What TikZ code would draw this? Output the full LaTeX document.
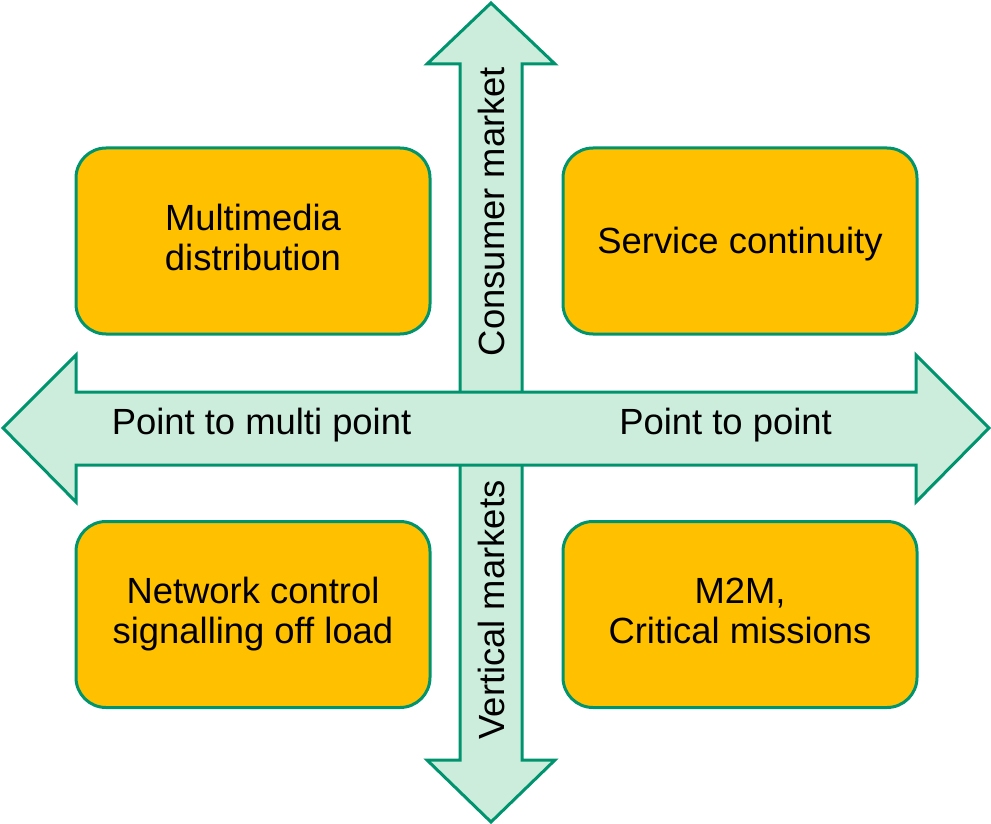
\documentclass[tikz,border=0pt]{standalone}
\usepackage{fontspec}
\setmainfont{Liberation Sans}
\definecolor{edgegreen}{RGB}{0,148,110}
\definecolor{arrowfill}{RGB}{204,236,220}
\definecolor{boxfill}{RGB}{255,192,0}
\newcommand\boxstrut{\rule[-8pt]{0pt}{40pt}}
\begin{document}
\begin{tikzpicture}[x=1pt,y=-1pt,
  arrowshape/.style={draw=edgegreen,fill=arrowfill,line width=3pt,line join=miter},
  quadbox/.style={draw=edgegreen,fill=boxfill,line width=3pt,rounded corners=30pt,
    minimum width=354pt,minimum height=186pt,inner sep=0pt,align=center,
    font=\fontsize{36.4}{40}\selectfont,
    execute at begin node=\boxstrut,execute at end node=\boxstrut},
  axislabel/.style={inner sep=0pt,font=\fontsize{36.4}{40}\selectfont,anchor=base}]
\useasboundingbox (0,0) rectangle (991,824);
% vertical double arrow
\draw[arrowshape] (460,64) -- (427,64) -- (491,3) -- (555,64) -- (522,64) -- (522,760)
  -- (555,760) -- (491,822) -- (427,760) -- (460,760) -- cycle;
\node[axislabel,rotate=90] (consumer) at (504,211.5) {Consumer market};
\node[axislabel,rotate=90] (vertical) at (504,610) {Vertical markets};
% horizontal double arrow
\draw[arrowshape] (76,392) -- (76,355) -- (3,428) -- (76,502) -- (76,465) -- (916,465)
  -- (916,502) -- (989,428) -- (916,355) -- (916,392) -- cycle;
\node[axislabel] (p2mp) at (261.5,434) {Point to multi point};
\node[axislabel] (p2p) at (725.5,434) {Point to point};
% quadrant boxes
\node[quadbox] (multimedia) at (253,241) {Multimedia\\distribution};
\node[quadbox] (service) at (740,241) {Service continuity};
\node[quadbox] (network) at (253,614.5) {Network control\\signalling off load};
\node[quadbox] (m2m) at (740,614.5) {M2M,\\Critical missions};
\end{tikzpicture}
\end{document}
